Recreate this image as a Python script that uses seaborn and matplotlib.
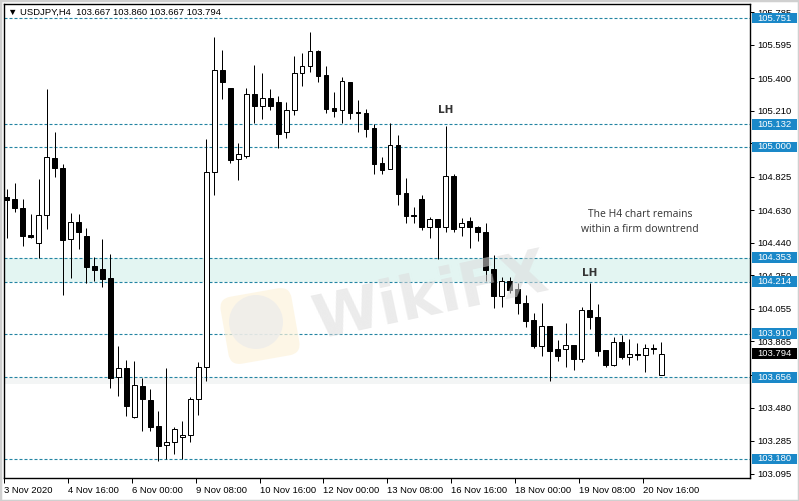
import numpy as np
import pandas as pd
import matplotlib
matplotlib.use("Agg")
import matplotlib.pyplot as plt
import matplotlib.transforms as mtransforms
from matplotlib.patches import Rectangle, FancyBboxPatch, Circle
import seaborn as sns


# USDJPY H4 candles (bar 0 = 3 Nov 2020)
opens = [104.709, 104.694, 104.641, 104.486, 104.437, 104.600, 104.935, 104.874, 104.460, 104.560,
         104.478, 104.303, 104.286, 104.233, 103.660, 103.708, 103.422, 103.605, 103.524, 103.372,
         103.259, 103.277, 103.306, 103.318, 103.527, 103.714, 104.851, 105.446, 105.341, 104.927,
         104.948, 105.306, 105.236, 105.283, 105.261, 105.084, 105.213, 105.428, 105.469, 105.559,
         105.417, 105.224, 105.213, 105.376, 105.203, 105.195, 105.110, 104.904, 104.869, 105.008,
         104.729, 104.604, 104.694, 104.534, 104.577, 104.530, 104.830, 104.530, 104.567, 104.532,
         104.503, 104.287, 104.132, 104.215, 104.171, 104.087, 103.990, 103.840, 103.955, 103.819,
         103.819, 103.842, 103.761, 104.049, 104.006, 103.815, 103.726, 103.860, 103.773, 103.792,
         103.784, 103.825, 103.667]
highs = [104.752, 104.787, 104.694, 104.608, 104.812, 105.335, 105.084, 104.898, 104.614, 104.608,
         104.525, 104.355, 104.462, 104.373, 103.838, 103.757, 103.751, 103.650, 103.588, 103.459,
         103.708, 103.368, 103.401, 103.543, 103.745, 105.045, 105.638, 105.564, 105.341, 105.020,
         105.341, 105.479, 105.430, 105.335, 105.296, 105.259, 105.527, 105.545, 105.669, 105.564,
         105.471, 105.319, 105.405, 105.376, 105.273, 105.220, 105.131, 104.940, 105.137, 105.067,
         104.818, 104.651, 104.719, 104.593, 104.577, 105.123, 104.839, 104.585, 104.591, 104.538,
         104.558, 104.367, 104.243, 104.239, 104.204, 104.136, 104.029, 104.087, 103.955, 103.873,
         103.971, 103.842, 104.068, 104.204, 104.084, 103.815, 103.889, 103.903, 103.880, 103.854,
         103.850, 103.850, 103.860]
lows = [104.466, 104.622, 104.423, 104.470, 104.353, 104.523, 104.826, 104.136, 104.233, 104.404,
        104.204, 104.219, 104.184, 103.596, 103.549, 103.430, 103.420, 103.345, 103.345, 103.168,
        103.180, 103.207, 103.180, 103.281, 103.436, 103.634, 104.721, 105.279, 104.904, 104.808,
        104.937, 105.141, 105.164, 105.213, 104.993, 105.049, 105.187, 105.356, 105.436, 105.380,
        105.195, 105.176, 105.141, 105.164, 105.088, 105.059, 104.841, 104.841, 104.869, 104.663,
        104.554, 104.558, 104.515, 104.470, 104.344, 104.505, 104.505, 104.482, 104.412, 104.453,
        104.219, 104.058, 104.068, 104.146, 104.025, 103.951, 103.829, 103.782, 103.636, 103.753,
        103.718, 103.699, 103.747, 103.936, 103.780, 103.718, 103.722, 103.765, 103.730, 103.757,
        103.689, 103.792, 103.667]
closes = [104.690, 104.641, 104.482, 104.476, 104.600, 104.939, 104.874, 104.457, 104.560, 104.505,
          104.301, 104.284, 104.231, 103.654, 103.708, 103.491, 103.609, 103.527, 103.368, 103.257,
          103.277, 103.354, 103.320, 103.529, 103.714, 104.851, 105.446, 105.376, 104.925, 104.956,
          105.306, 105.236, 105.283, 105.236, 105.077, 105.213, 105.428, 105.469, 105.557, 105.415,
          105.222, 105.211, 105.382, 105.199, 105.195, 105.106, 104.902, 104.867, 105.008, 104.727,
          104.598, 104.596, 104.534, 104.577, 104.530, 104.830, 104.523, 104.554, 104.530, 104.501,
          104.284, 104.132, 104.215, 104.165, 104.087, 103.986, 103.840, 103.955, 103.811, 103.782,
          103.842, 103.761, 104.048, 104.006, 103.811, 103.730, 103.860, 103.773, 103.792, 103.784,
          103.825, 103.821, 103.794]

date_labels = ["3 Nov 2020", "4 Nov 16:00", "6 Nov 00:00", "9 Nov 08:00", "10 Nov 16:00",
               "12 Nov 00:00", "13 Nov 08:00", "16 Nov 16:00", "18 Nov 00:00", "19 Nov 08:00",
               "20 Nov 16:00"]
label_bars = [0, 8, 16, 24, 32, 40, 48, 56, 64, 72, 80]

tick_prices = [105.785, 105.595, 105.400, 105.210, 105.020, 104.825, 104.630, 104.440,
               104.250, 104.055, 103.865, 103.670, 103.480, 103.285, 103.095]
# ticks whose label sits fully under a level box in the terminal
hidden_ticks = [105.020, 103.670]
level_prices = [105.751, 105.132, 105.000, 104.353, 104.214, 103.910, 103.656, 103.180]
zone_low, zone_high = 104.214, 104.353
current_price = 103.794

lh_bars = [55, 73]
lh_prices = [105.215, 104.266]
note_text = "The H4 chart remains\nwithin a firm downtrend"
header = "\u25bc USDJPY,H4  103.667 103.860 103.667 103.794"


df = pd.DataFrame({"open": opens, "high": highs, "low": lows, "close": closes})
df["bar"] = np.arange(len(df))
df["bull"] = df["close"] >= df["open"]

sns.set_theme(style="white", rc={"axes.edgecolor": "black", "xtick.color": "black",
                                 "ytick.color": "black", "text.color": "black"})
plt.rcParams["font.family"] = ["Liberation Sans", "DejaVu Sans"]

W, H = 799, 501
fig = plt.figure(figsize=(W / 100, H / 100), dpi=100)
fig.patch.set_facecolor("white")
ax = fig.add_axes([4 / W, 1 - 478 / H, 746 / W, 474 / H])
ax.set_facecolor("white")

px = 0.72  # one pixel in points
teal = "#2384a3"
blue = "#1a88c8"

ax.axhspan(zone_low, zone_high, color="#e3f5f2", zorder=0, lw=0)
ax.axhspan(103.615, 103.656, color="#f3f5f5", zorder=0, lw=0)

for p in level_prices:
    ax.axhline(p, color=teal, lw=0.8, ls=(0, (2.7, 1.8)), zorder=1)

# watermark
pix = mtransforms.IdentityTransform()
logo = FancyBboxPatch((224, H - 360), 72, 68, boxstyle="round,pad=0,rounding_size=12",
                      fc="#fdf3dc", ec="none", alpha=0.7, transform=pix, zorder=0.5)
rot = mtransforms.Affine2D().rotate_deg_around(260, H - 326, 10)
logo.set_transform(rot + pix)
fig.patches.append(logo)
fig.patches.append(Circle((256, H - 322), 27, fc="#ebebeb", ec="none", alpha=0.7,
                          transform=pix, zorder=0.6))
fig.text(430 / W, 1 - 298 / H, "WikiFX", fontsize=44, fontweight="bold", color="#dcdcdc",
         alpha=0.55, rotation=12, ha="center", va="center", family="DejaVu Sans", zorder=0.7)

# candles
ax.vlines(df["bar"], df["low"], df["high"], color="black", lw=px, zorder=3)
body_bottom = df[["open", "close"]].min(axis=1)
body_height = (df["close"] - df["open"]).abs()
face = np.where(df["bull"], "white", "black")
ax.bar(df["bar"], body_height, bottom=body_bottom, width=0.6, color=face,
       edgecolor="black", linewidth=px, zorder=4)

ax.set_xlim(-0.1625, 93.09)
ax.set_ylim(103.069, 105.833)

ax.set_xticks([b - 0.33 for b in label_bars])
ax.set_xticklabels(date_labels, ha="left", fontsize=6.8)
ax.yaxis.tick_right()
ax.set_yticks(tick_prices)
ax.set_yticklabels(["" if p in hidden_ticks else f"{p:.3f}" for p in tick_prices], fontsize=6.8)
ax.tick_params(axis="x", direction="out", length=3.5, width=px, pad=2, bottom=True)
ax.tick_params(axis="y", direction="out", length=3, width=px, pad=2, right=True)
for s in ax.spines.values():
    s.set_color("black")
    s.set_linewidth(1.0)

# price labels on the right axis
blend = mtransforms.blended_transform_factory(ax.transAxes, ax.transData)
box_w = 45 / 746
box_h = 10.7 / 171.5
box_x = 1 + 2 / 746


def price_box(price, fc):
    ax.add_patch(Rectangle((box_x, price - box_h / 2), box_w, box_h, transform=blend,
                           fc=fc, ec="none", clip_on=False, zorder=10))
    ax.text(box_x + box_w / 2, price, f"{price:.3f}", transform=blend, ha="center",
            va="center", color="white", fontsize=6.8, clip_on=False, zorder=11)


for p in level_prices:
    price_box(p, blue)
price_box(current_price, "black")

for b, p in zip(lh_bars, lh_prices):
    ax.text(b, p, "LH", ha="center", va="center", fontsize=7.5, fontweight="bold",
            color="#333333", family="DejaVu Sans", zorder=6)

ax.text(79.3, 104.561, note_text, ha="center", va="center", fontsize=7.5,
        family="Open Sans", color="#333333", linespacing=1.5, zorder=6)

fig.text(8 / W, 1 - 12 / H, header, fontsize=6.8, ha="left", va="center", zorder=12)

fig.patches.append(Rectangle((0, 0), 1, 1, transform=fig.transFigure, fill=False,
                             ec="#d0d0d0", lw=2.5, zorder=20))

fig.savefig("out.png", dpi=100, facecolor="white")
